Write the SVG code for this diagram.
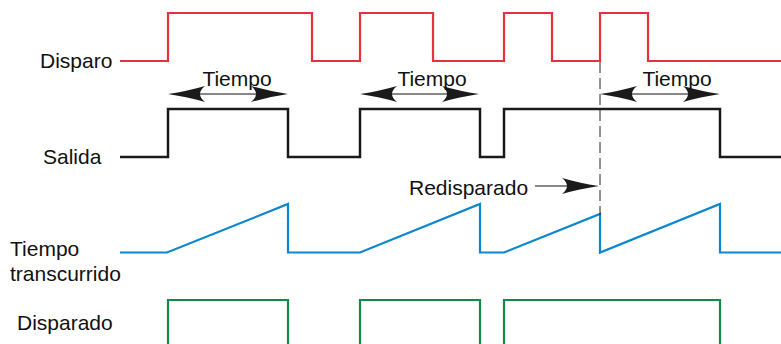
<svg xmlns="http://www.w3.org/2000/svg" width="781" height="344" viewBox="0 0 781 344">
<defs>
<style>
text{font-family:"Liberation Sans",Arial,sans-serif;font-size:21px;fill:#111}
.sig{fill:none;stroke-width:2.2;stroke-linejoin:miter}
.red{stroke:#e8303f}
.blk{stroke:#1a1a1a;stroke-width:2.5}
.blu{stroke:#0b87d0}
.grn{stroke:#148a45}
.dim{stroke:#111;stroke-width:1.2;fill:none}
.head{fill:#1a1a1a}
</style>
<path id="lh" d="M0,0 Q20,-3 37,-8 Q27,0 37,8 Q20,3 0,0 Z"/>
</defs>
<rect width="781" height="344" fill="#fff"/>
<g id="labels">
<text x="40" y="68">Disparo</text>
<text x="43" y="164">Salida</text>
<text x="10" y="256">Tiempo</text>
<text x="10" y="281">transcurrido</text>
<text x="17" y="330">Disparado</text>
</g>
<g id="disparo">
<path class="sig red" d="M120,61 H168 V13 H312 V61 H360 V13 H433 V61 H504 V13 H552 V61 H600 V13 H648 V61 H781"/>
</g>
<g id="salida">
<path class="sig blk" d="M120,157 H168 V109 H288 V157 H360 V109 H480 V157 H504 V109 H720 V157 H781"/>
</g>
<g id="tiempo-transcurrido">
<path class="sig blu" d="M120,252.5 H167 L288,204 V252.5 H360 L480,204 V252.5 H504 L600,214 V252.5 L720,204 V252.5 H781"/>
</g>
<g id="disparado">
<path class="sig grn" d="M168,345 V300 H288 V345"/>
<path class="sig grn" d="M360,345 V300 H480 V345"/>
<path class="sig grn" d="M504,345 V300 H720 V345"/>
</g>
<g id="connectors">
<line x1="600" y1="62" x2="600" y2="215" stroke="#222" stroke-width="1" stroke-dasharray="11,5"/>
<g id="t1">
<line class="dim" x1="190" y1="94" x2="266" y2="94"/>
<use href="#lh" class="head" transform="translate(168,94)"/>
<use href="#lh" class="head" transform="translate(288,94) scale(-1,1)"/>
<text x="237" y="86" text-anchor="middle">Tiempo</text>
</g>
<g id="t2">
<line class="dim" x1="382" y1="94" x2="458" y2="94"/>
<use href="#lh" class="head" transform="translate(360,94)"/>
<use href="#lh" class="head" transform="translate(479,94) scale(-1,1)"/>
<text x="432" y="86" text-anchor="middle">Tiempo</text>
</g>
<g id="t3">
<line class="dim" x1="622" y1="94" x2="698" y2="94"/>
<use href="#lh" class="head" transform="translate(600,94)"/>
<use href="#lh" class="head" transform="translate(720,94) scale(-1,1)"/>
<text x="677" y="86" text-anchor="middle">Tiempo</text>
</g>
<g id="redisparado">
<text x="409" y="195">Redisparado</text>
<line class="dim" x1="535" y1="186" x2="580" y2="186"/>
<use href="#lh" class="head" transform="translate(599,186) scale(-1,1)"/>
</g>
</g>
</svg>
